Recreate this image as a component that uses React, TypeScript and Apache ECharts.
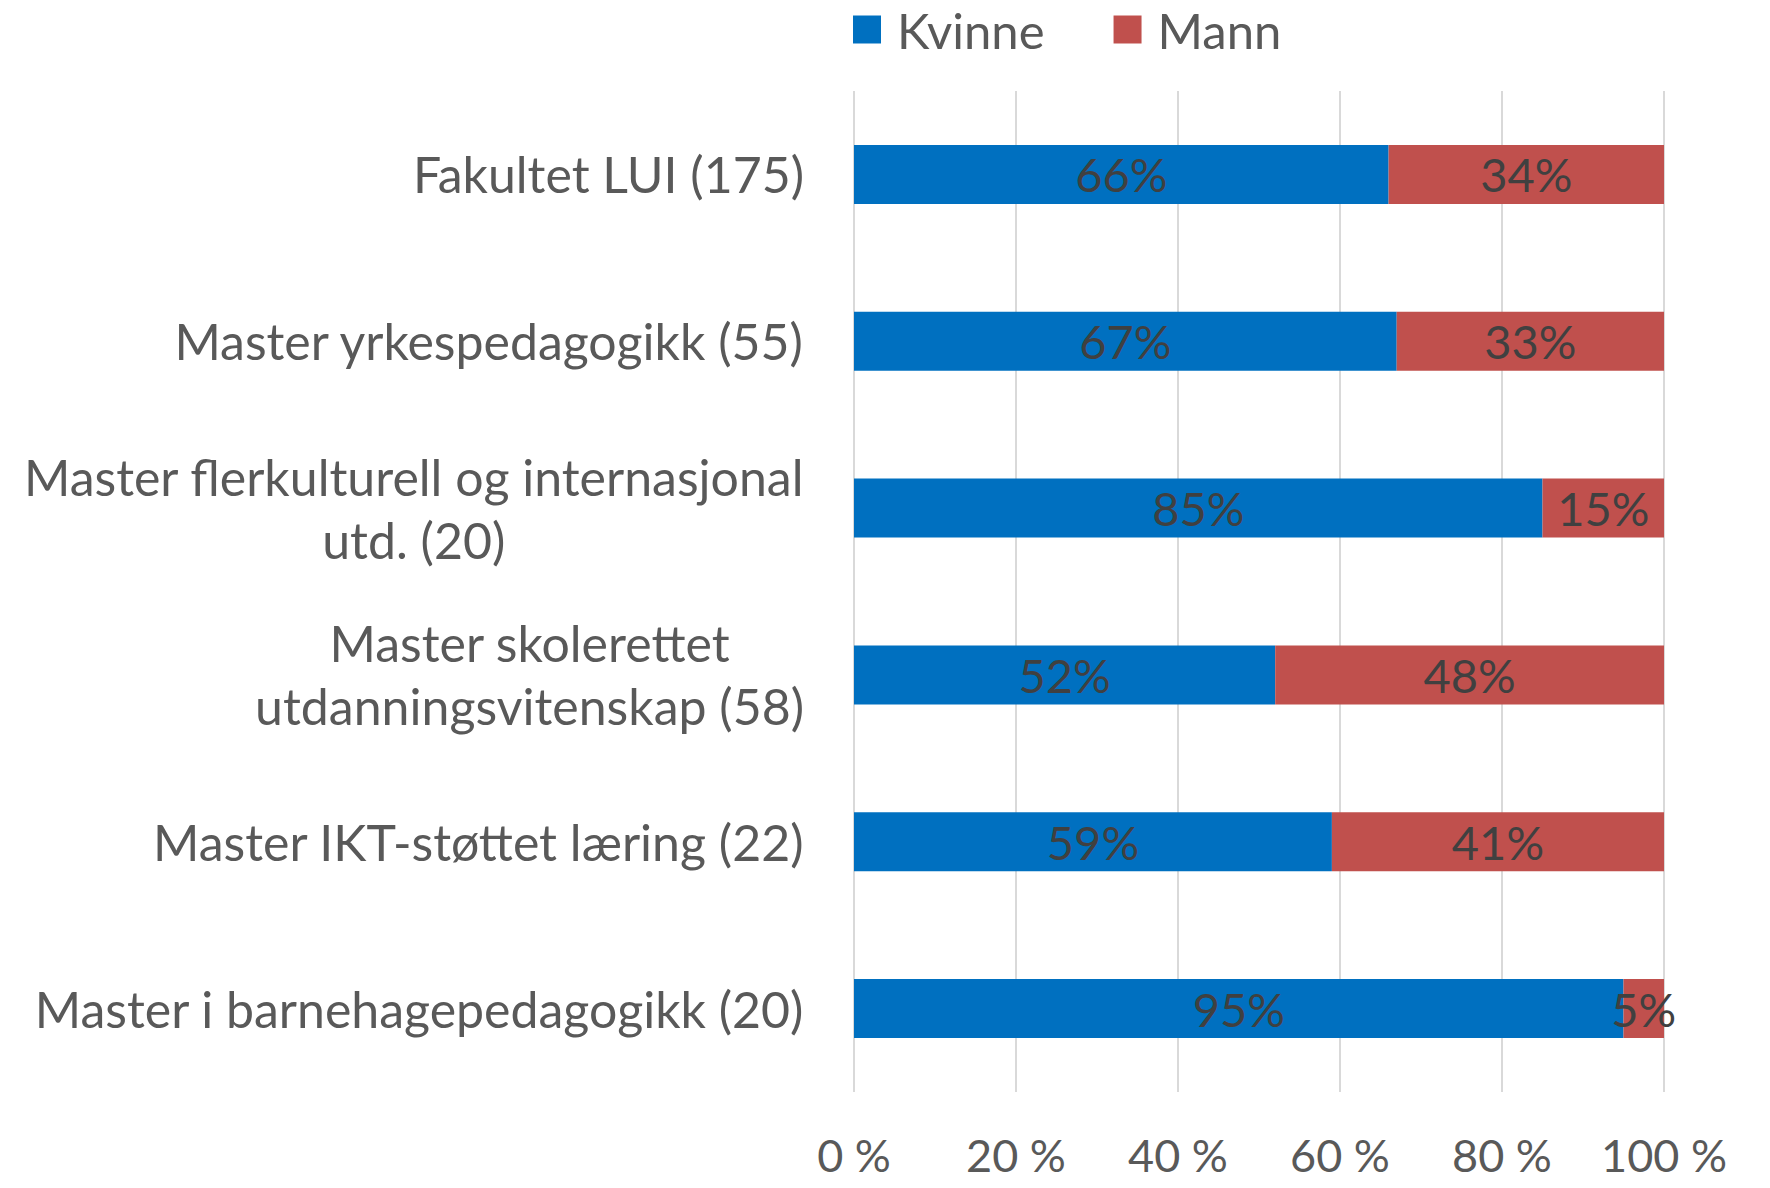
import React, { useEffect, useRef } from "react";
import * as echarts from "echarts";

const categories = [
  "Fakultet LUI (175)",
  "Master yrkespedagogikk (55)",
  "Master flerkulturell og internasjonal\nutd. (20)",
  "Master skolerettet\nutdanningsvitenskap (58)",
  "Master IKT-støttet læring (22)",
  "Master i barnehagepedagogikk (20)",
];
const kvinne = [66, 67, 85, 52, 59, 95];
const mann = [34, 33, 15, 48, 41, 5];
const xTicks = [0, 20, 40, 60, 80, 100];

const FONT = "Lato";

export default function App() {
  const ref = useRef<HTMLDivElement>(null);
  useEffect(() => {
    if (!ref.current) return;
    const chart = echarts.init(ref.current, undefined, { renderer: "svg" });
    const dataLabel = {
      show: true,
      position: "inside",
      formatter: "{c}%",
      fontSize: 47,
      color: "#404040",
      fontFamily: FONT,
    };
    chart.setOption({
      animation: false,
      textStyle: { fontFamily: FONT },
      legend: {
        top: 0,
        left: 848,
        itemWidth: 28,
        itemHeight: 28,
        itemGap: 69,
        icon: "rect",
        textStyle: { fontSize: 49, color: "#595959", fontFamily: FONT, padding: [0, 0, 0, 11] },
        data: ["Kvinne", "Mann"],
      },
      grid: { left: 854, right: 106, top: 91, bottom: 96, containLabel: false },
      xAxis: {
        type: "value",
        min: xTicks[0],
        max: xTicks[xTicks.length - 1],
        interval: 20,
        axisLine: { show: false },
        axisTick: { show: false },
        splitLine: { show: true, lineStyle: { color: "#d9d9d9", width: 2 } },
        axisLabel: {
          margin: 40,
          fontSize: 45,
          lineHeight: 45,
          color: "#595959",
          fontFamily: FONT,
          formatter: (v: number) => `${v} %`,
        },
      },
      yAxis: {
        type: "category",
        inverse: true,
        data: categories,
        axisLine: { show: false },
        axisTick: { show: false },
        axisLabel: {
          margin: 50,
          fontSize: 50,
          color: "#595959",
          fontFamily: FONT,
          lineHeight: 63,
          formatter: (v: string) =>
            v
              .split("\n")
              .map((l) => `{c|${l}}`)
              .join("\n"),
          rich: {
            c: { align: "center", fontSize: 50, color: "#595959", fontFamily: FONT, lineHeight: 63 },
          },
        },
      },
      series: [
        {
          name: "Kvinne",
          type: "bar",
          stack: "s",
          barWidth: 59,
          data: kvinne,
          itemStyle: { color: "#0070C0" },
          label: dataLabel,
        },
        {
          name: "Mann",
          type: "bar",
          stack: "s",
          barWidth: 59,
          data: mann,
          itemStyle: { color: "#C0504D" },
          label: dataLabel,
        },
      ],
    });
    return () => chart.dispose();
  }, []);
  return <div ref={ref} style={{ width: 1770, height: 1188, margin: -8 }} />;
}
